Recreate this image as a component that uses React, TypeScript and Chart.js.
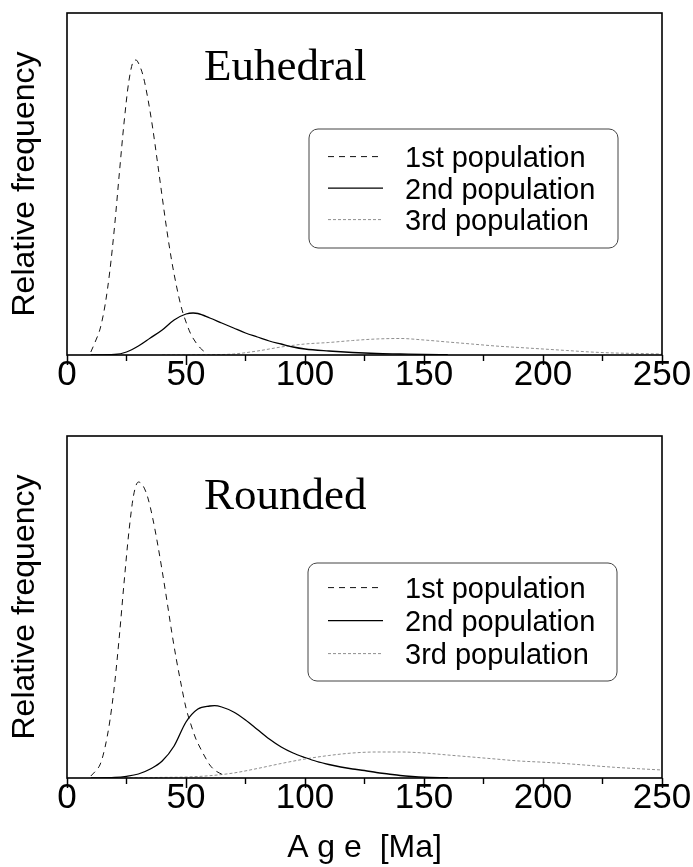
import React, { useEffect, useRef } from 'react';
import { Chart, registerables } from 'chart.js';

Chart.register(...registerables);

// ---- Data (y in arbitrary relative-frequency units) ----
const seriesLabels = ['1st population', '2nd population', '3rd population'];
const xStep = 50;
const minorTicks = [25, 75, 125, 175, 225];

// Euhedral
const euAge1 = [10, 12, 14, 16, 18, 20, 22, 24, 26, 28, 29, 30, 32, 34, 36, 38, 40, 42, 44, 46, 48, 50, 52, 54, 56, 58, 59];
const euFreq1 = [3, 14, 27, 50, 84, 129, 182, 233, 274, 294, 295, 292, 279, 256, 227, 193, 158, 124, 94, 69, 48, 33, 21, 13, 7, 3, 2];
const euAge2 = [10, 20, 25, 30, 35, 40, 45, 50, 53, 55, 60, 65, 70, 75, 80, 85, 90, 95, 100, 110, 120, 130, 140, 150, 160];
const euFreq2 = [0, 0.5, 3, 9, 17, 25, 35, 41, 42, 41.5, 37, 32, 27, 22, 18, 14, 11, 8, 6, 4, 2.5, 1.5, 1, 0.5, 0.3];
const euAge3 = [40, 60, 70, 80, 90, 100, 110, 120, 130, 140, 150, 160, 170, 180, 190, 200, 210, 220, 230, 240, 250];
const euFreq3 = [0, 0.3, 1, 4, 8, 11, 12.5, 14.5, 16, 16.5, 15, 13, 11, 9, 7.5, 6, 4.5, 3, 2, 1.5, 1];

// Rounded
const roAge1 = [10, 12, 14, 16, 18, 20, 22, 24, 26, 28, 30, 32, 34, 36, 38, 40, 42, 44, 46, 48, 50, 52, 54, 56, 58, 60, 62, 64, 66];
const roFreq1 = [2, 7, 14, 31, 57, 94, 142, 196, 246, 283, 296, 292, 280, 260, 235, 207, 177, 146, 118, 93, 70, 54, 40, 30, 21, 13, 8, 5, 3];
const roAge2 = [10, 20, 25, 30, 35, 40, 45, 50, 55, 60, 62, 65, 70, 75, 80, 85, 90, 95, 100, 105, 110, 115, 120, 125, 130, 135, 140, 145, 150, 160];
const roFreq2 = [0, 0.5, 1.7, 4, 9, 17, 32, 56, 69, 72, 72.3, 71, 66, 58, 48.5, 39, 31, 25, 20.5, 16.5, 13.5, 11, 9, 7.5, 5.5, 4, 2.5, 1.5, 0.8, 0.3];
const roAge3 = [20, 30, 40, 50, 60, 70, 80, 90, 100, 110, 120, 130, 140, 150, 160, 170, 180, 190, 200, 210, 220, 230, 240, 250];
const roFreq3 = [0, 0.3, 0.6, 1, 2.3, 5, 9.5, 14.5, 19, 22.5, 25, 26, 26, 25, 23, 21, 19, 17, 15.8, 14.3, 12.5, 10.7, 9.3, 8];

const SANS = "'Liberation Sans', Arial, Helvetica, sans-serif";
const SERIF = "'Liberation Serif', 'Times New Roman', Times, serif";

const lineStyles = [
  { borderColor: '#111111', borderWidth: 1, borderDash: [6, 5] },
  { borderColor: '#000000', borderWidth: 1.3, borderDash: [] as number[] },
  { borderColor: '#8f8f8f', borderWidth: 1, borderDash: [3, 2] },
];

const pts = (xs: number[], ys: number[]) => xs.map((x, i) => ({ x, y: ys[i] }));

const decorPlugin = {
  id: 'panelDecor',
  afterDatasetsDraw(chart: any, _args: any, opts: any) {
    const { ctx, chartArea: a, scales } = chart;
    const xs = scales.x;
    ctx.save();
    // frame
    ctx.setLineDash([]);
    ctx.strokeStyle = '#000';
    ctx.lineWidth = 1.6;
    ctx.strokeRect(a.left, a.top, a.right - a.left, a.bottom - a.top);
    // minor ticks
    ctx.lineWidth = 1.4;
    for (const v of minorTicks) {
      const px = xs.getPixelForValue(v);
      ctx.beginPath();
      ctx.moveTo(px, a.bottom);
      ctx.lineTo(px, a.bottom + 6);
      ctx.stroke();
    }
    // panel label
    ctx.fillStyle = '#000';
    ctx.font = `45px ${SERIF}`;
    ctx.textAlign = 'left';
    ctx.textBaseline = 'alphabetic';
    ctx.fillText(opts.label, opts.labelX, opts.labelY);
    // legend
    const L = opts.legend;
    ctx.strokeStyle = '#444';
    ctx.lineWidth = 1;
    ctx.beginPath();
    ctx.roundRect(L.x, L.y, L.w, L.h, 9);
    ctx.stroke();
    ctx.font = `29px ${SANS}`;
    chart.data.datasets.forEach((ds: any, i: number) => {
      const base = L.firstBaseline + i * L.rowGap;
      const mid = base - 10.4;
      ctx.strokeStyle = ds.borderColor;
      ctx.lineWidth = ds.borderWidth;
      ctx.setLineDash(ds.borderDash || []);
      ctx.beginPath();
      ctx.moveTo(L.lineX1, mid);
      ctx.lineTo(L.lineX2, mid);
      ctx.stroke();
      ctx.setLineDash([]);
      ctx.fillStyle = '#000';
      ctx.fillText(ds.label, L.textX, base);
    });
    ctx.restore();
  },
};

type PanelProps = {
  top: number;
  height: number;
  padTop: number;
  xAxisHeight: number;
  showXTitle: boolean;
  series: { ages: number[]; freq: number[] }[];
  label: string;
  labelY: number;
  legend: any;
};

function Panel(p: PanelProps) {
  const ref = useRef<HTMLCanvasElement | null>(null);
  useEffect(() => {
    if (!ref.current) return;
    const chart = new Chart(ref.current, {
      type: 'line',
      data: {
        datasets: p.series.map((s, i) => ({
          label: seriesLabels[i],
          data: pts(s.ages, s.freq),
          ...lineStyles[i],
          pointRadius: 0,
          fill: false,
          cubicInterpolationMode: 'monotone',
        })),
      } as any,
      options: {
        responsive: false,
        animation: false,
        events: [],
        layout: { padding: { top: p.padTop, right: 31, left: 0, bottom: 0 } },
        plugins: {
          legend: { display: false },
          tooltip: { enabled: false },
          panelDecor: { label: p.label, labelX: 204, labelY: p.labelY, legend: p.legend },
        } as any,
        scales: {
          x: {
            type: 'linear',
            position: 'bottom',
            min: 0,
            max: 250,
            afterFit: (s: any) => {
              s.height = p.xAxisHeight;
            },
            ticks: {
              stepSize: xStep,
              font: { family: SANS, size: 35 },
              color: '#000',
              padding: -11,
              maxRotation: 0,
              autoSkip: false,
            },
            grid: {
              display: true,
              drawOnChartArea: false,
              drawTicks: true,
              tickLength: 10,
              tickColor: '#000',
              tickWidth: 1.5,
            },
            border: { display: false },
            title: {
              display: p.showXTitle,
              text: 'A g e  [Ma]',
              font: { family: SANS, size: 32 },
              color: '#000',
              padding: 0,
            },
          },
          y: {
            type: 'linear',
            min: 0,
            max: 342,
            afterFit: (s: any) => {
              s.width = 67;
            },
            ticks: { display: false },
            grid: { display: false },
            border: { display: false },
            title: {
              display: true,
              text: 'Relative frequency',
              font: { family: SANS, size: 32 },
              color: '#000',
              padding: { top: 6, bottom: 0 },
            },
          },
        },
      } as any,
      plugins: [decorPlugin as any],
    });
    return () => chart.destroy();
  }, []);
  return (
    <canvas
      ref={ref}
      width={693}
      height={p.height}
      style={{ position: 'absolute', left: 0, top: p.top, display: 'block', width: 693, height: p.height }}
    />
  );
}

export default function App() {
  return (
    <div style={{ position: 'absolute', left: 0, top: 0, width: 693, height: 867, background: '#fff' }}>
      <Panel
        top={0}
        height={400}
        padTop={13}
        xAxisHeight={45}
        showXTitle={false}
        series={[
          { ages: euAge1, freq: euFreq1 },
          { ages: euAge2, freq: euFreq2 },
          { ages: euAge3, freq: euFreq3 },
        ]}
        label="Euhedral"
        labelY={80}
        legend={{ x: 309, y: 129, w: 309, h: 119, lineX1: 328, lineX2: 383, textX: 405, firstBaseline: 167, rowGap: 31.5 }}
      />
      <Panel
        top={400}
        height={467}
        padTop={36}
        xAxisHeight={89}
        showXTitle={true}
        series={[
          { ages: roAge1, freq: roFreq1 },
          { ages: roAge2, freq: roFreq2 },
          { ages: roAge3, freq: roFreq3 },
        ]}
        label="Rounded"
        labelY={109}
        legend={{ x: 308, y: 163, w: 309, h: 118, lineX1: 328, lineX2: 383, textX: 405, firstBaseline: 198, rowGap: 33 }}
      />
    </div>
  );
}
